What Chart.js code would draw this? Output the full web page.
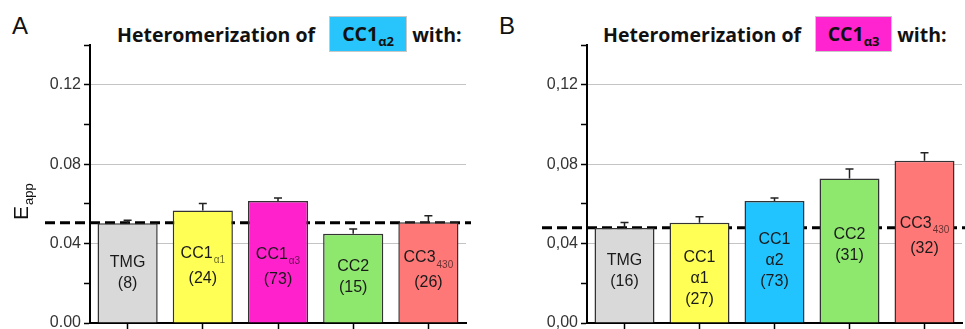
<!DOCTYPE html>
<html>
<head>
<script src="https://cdn.jsdelivr.net/npm/chart.js"></script>
<style>
  body { margin: 0; background: #fff; width: 965px; height: 329px; overflow: hidden; position: relative; font-family: 'Liberation Sans', Arial, sans-serif; }
  .panel { position: absolute; top: 0; }
  .letter { position: absolute; top: 12px; font-size: 24px; color: #111; }
  .heading { position: absolute; top: 16px; height: 36px; display: flex; align-items: center; white-space: nowrap;
             font-family: 'Open Sans', sans-serif; font-weight: bold; font-size: 19.5px; color: #111; }
  .box { display: inline-block; box-sizing: border-box; height: 36px; line-height: 34px; text-align: center;
         border: 1px solid #c8c8c8; margin: 0 5px 0 14px; }
  .box sub { font-size: 13px; vertical-align: -5px; }
</style>
</head>
<body>
<div class="letter" style="left:12px">A</div>
<div class="heading" style="left:117px">Heteromerization of<span class="box" style="width:78px;background:#27c5fb">CC1<sub>α2</sub></span>with:</div>
<div class="letter" style="left:499px">B</div>
<div class="heading" style="left:603px">Heteromerization of<span class="box" style="width:77px;background:#ff24cf">CC1<sub>α3</sub></span>with:</div>

<div class="panel" style="left:0"><canvas id="chartA" width="480" height="329"></canvas></div>
<div class="panel" style="left:480px"><canvas id="chartB" width="485" height="329"></canvas></div>

<script>
// panel A: partners of CC1a2
var catsA = ['TMG', 'CC1_α1', 'CC1_α3', 'CC2', 'CC3_430'];
var countsA = [8, 24, 73, 15, 26];
var valuesA = [0.0502, 0.0567, 0.0614, 0.0449, 0.0507];
var errorsA = [0.0016, 0.0035, 0.0015, 0.0025, 0.0033];
var refA = 0.0505;

// panel B: partners of CC1a3
var catsB = ['TMG', 'CC1|α1', 'CC1|α2', 'CC2', 'CC3_430'];
var countsB = [16, 27, 73, 31, 32];
var valuesB = [0.0478, 0.0505, 0.0614, 0.0728, 0.0817];
var errorsB = [0.0028, 0.0030, 0.0015, 0.0047, 0.0040];
var refB = 0.048;

var yTicks = [0, 0.02, 0.04, 0.06, 0.08, 0.10, 0.12, 0.14];

var colorsA = ['#d9d9d9', '#ffff55', '#ff22cc', '#8de86d', '#ff7878'];
var colorsB = ['#d9d9d9', '#ffff55', '#22c4ff', '#8de86d', '#ff7878'];

// where the text block inside each bar starts (value units)
var textPosA = [0.0302, 0.0352, 0.0347, 0.0282, 0.0327];
var textPosB = [0.0312, 0.0327, 0.0418, 0.0443, 0.0503];

var FONT = "'Liberation Sans', Arial, sans-serif";

function drawSubText(ctx, text, x, y) {
    // text like 'CC1_α1' -> main + subscript, centred on x
    var parts = text.split('_');
    ctx.font = '16px ' + FONT;
    var w1 = ctx.measureText(parts[0]).width;
    var w2 = 0;
    if (parts[1]) { ctx.font = '10px ' + FONT; w2 = ctx.measureText(parts[1]).width + 1; }
    var x0 = x - (w1 + w2) / 2;
    ctx.textAlign = 'left';
    ctx.textBaseline = 'middle';
    ctx.font = '16px ' + FONT;
    ctx.fillStyle = '#1a1a1a';
    ctx.fillText(parts[0], x0, y);
    if (parts[1]) {
        ctx.font = '10px ' + FONT;
        ctx.fillStyle = 'rgba(0,0,0,0.6)';
        ctx.fillText(parts[1], x0 + w1 + 1, y + 7);
    }
    return !!parts[1];
}

var figPlugin = {
    id: 'fig',
    beforeDatasetsDraw: function (chart, args, o) {
        var ctx = chart.ctx, y = chart.scales.y, a = chart.chartArea;
        var py = y.getPixelForValue(o.ref);
        ctx.save();
        ctx.strokeStyle = '#000';
        ctx.lineWidth = 3;
        ctx.setLineDash([10, 5]);
        ctx.beginPath();
        ctx.moveTo(a.left - 45, py);
        ctx.lineTo(a.right + 5, py);
        ctx.stroke();
        ctx.restore();
    },
    afterDatasetsDraw: function (chart, args, o) {
        var ctx = chart.ctx, y = chart.scales.y;
        var meta = chart.getDatasetMeta(0);
        var vals = chart.data.datasets[0].data;
        ctx.save();
        meta.data.forEach(function (bar, i) {
            // error bar (upper only)
            var top = y.getPixelForValue(vals[i]);
            var et = y.getPixelForValue(vals[i] + o.errors[i]);
            ctx.strokeStyle = '#222';
            ctx.lineWidth = 1.5;
            ctx.beginPath();
            ctx.moveTo(bar.x, top);
            ctx.lineTo(bar.x, et);
            ctx.moveTo(bar.x - 4, et);
            ctx.lineTo(bar.x + 4, et);
            ctx.stroke();
            // text inside the bar
            var lines = o.cats[i].split('|').concat(['(' + o.counts[i] + ')']);
            var ty = y.getPixelForValue(o.textPos[i]);
            lines.forEach(function (ln) {
                var sub = drawSubText(ctx, ln, bar.x, ty);
                ty += sub ? 25 : 21;
            });
        });
        // axis title E_app
        ctx.translate(o.titleX, o.titleY);
        ctx.rotate(-Math.PI / 2);
        ctx.fillStyle = '#111';
        ctx.textAlign = 'left';
        ctx.textBaseline = 'alphabetic';
        ctx.font = '21px ' + FONT;
        ctx.fillText('E', 0, 0);
        var w = ctx.measureText('E').width;
        ctx.font = '13px ' + FONT;
        ctx.fillText('app', w + 1, 5);
        ctx.restore();
    }
};

function makeChart(id, cats, values, colors, opts) {
    return new Chart(document.getElementById(id), {
        type: 'bar',
        data: {
            labels: cats,
            datasets: [{
                data: values,
                backgroundColor: colors,
                borderColor: '#333',
                borderWidth: 1.5,
                barPercentage: 0.8,
                categoryPercentage: 1
            }]
        },
        options: {
            responsive: false,
            animation: false,
            layout: { padding: { top: 45, right: opts.right, left: 0, bottom: 0 } },
            plugins: {
                legend: { display: false },
                tooltip: { enabled: false },
                fig: opts.fig
            },
            scales: {
                x: {
                    ticks: { display: false },
                    grid: { display: true, drawOnChartArea: false, offset: false, tickLength: 6, tickColor: '#000', tickWidth: 1.5 },
                    border: { color: '#000', width: 2 }
                },
                y: {
                    min: 0, max: 0.14,
                    afterBuildTicks: function (s) { s.ticks = yTicks.map(function (v) { return { value: v }; }); },
                    afterFit: function (s) { s.width = opts.axisW; s.paddingTop = 0; s.paddingBottom = 0; },
                    ticks: {
                        padding: 3,
                        color: '#333',
                        font: { family: FONT, size: 16 },
                        callback: function (v) {
                            if (Math.round(v * 100) % 4 !== 0) return '';
                            var s = v.toFixed(2);
                            return opts.comma ? s.replace('.', ',') : s;
                        }
                    },
                    grid: {
                        color: function (c) {
                            var v = c.tick ? c.tick.value : 0;
                            return (v > 0.001 && Math.round(v * 100) % 4 === 0) ? '#c4c4c4' : 'rgba(0,0,0,0)';
                        },
                        lineWidth: 1,
                        tickLength: 6,
                        tickColor: '#000',
                        tickWidth: 1.5
                    },
                    border: { color: '#000', width: 2 }
                }
            }
        },
        plugins: [figPlugin]
    });
}

makeChart('chartA', catsA, valuesA, colorsA, {
    right: 14, axisW: 90, comma: false,
    fig: { ref: refA, errors: errorsA, cats: catsA, counts: countsA, textPos: textPosA, titleX: 28, titleY: 220 }
});
makeChart('chartB', catsB, valuesB, colorsB, {
    right: 3, axisW: 107, comma: true,
    fig: { ref: refB, errors: errorsB, cats: catsB, counts: countsB, textPos: textPosB, titleX: 525, titleY: 228 }
});
</script>
</body>
</html>
